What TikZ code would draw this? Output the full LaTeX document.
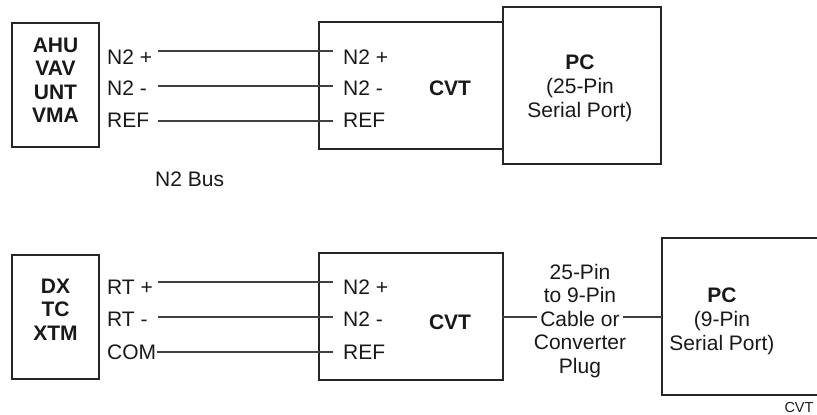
\documentclass[tikz,border=0pt]{standalone}
\usepackage{fontspec}
\setmainfont{Liberation Sans}
\newcommand{\bigtxt}{\fontsize{21}{23.4}\selectfont}
\newcommand{\pctxt}{\fontsize{21}{24}\selectfont}
\begin{document}
\begin{tikzpicture}[x=1pt,y=-1pt,
  box/.style={draw=black!85, line width=1.2pt, rectangle, inner sep=0pt},
  wire/.style={draw=black!75, line width=1.3pt},
  txt/.style={font=\bigtxt, inner sep=0pt, anchor=base, align=center, text=black!90},
  lbl/.style={font=\bigtxt, inner sep=0pt, anchor=base west, text=black!90},
  pctext/.style={font=\pctxt, inner sep=0pt, anchor=base, align=center, text=black!90}]
\useasboundingbox (0,0) rectangle (817,415);

% ---------- top row ----------
\node[box, minimum width=87pt, minimum height=124pt] (dev1) at (55.5,85) {};
\node[box, minimum width=184pt, minimum height=127pt] (cvt1) at (411,85.5) {};
\node[box, minimum width=158pt, minimum height=157pt] (pc1) at (582,85.5) {};

% multi-line nodes: base anchor is the baseline of the last line
\node[txt, font=\bigtxt\bfseries] (dev1t) at (55.5,122.5) {AHU\\VAV\\UNT\\VMA};
\node[lbl] (l1a) at (107,64.5) {N2 +};
\node[lbl] (l1b) at (107,95.5) {N2 -};
\node[lbl] (l1c) at (107,127.5) {REF};
\node[lbl] (r1a) at (343,64.5) {N2 +};
\node[lbl] (r1b) at (343,95.5) {N2 -};
\node[lbl] (r1c) at (343,127.5) {REF};
\node[txt, font=\bigtxt\bfseries] (cvt1t) at (450,95.5) {CVT};
\node[pctext] (pc1t) at (580,117.5) {\textbf{PC}\\(25-Pin\\Serial Port)};
\node[lbl] (bus) at (155,186.5) {N2 Bus};

\coordinate (w1as) at (158,51);  \coordinate (w1ae) at (333,51);
\coordinate (w1bs) at (158,86);  \coordinate (w1be) at (333,86);
\coordinate (w1cs) at (158,121); \coordinate (w1ce) at (333,121);
\draw[wire] (w1as) -- (w1ae);
\draw[wire] (w1bs) -- (w1be);
\draw[wire] (w1cs) -- (w1ce);

% ---------- bottom row ----------
\node[box, minimum width=87pt, minimum height=124pt] (dev2) at (55.5,317) {};
\node[box, minimum width=184pt, minimum height=127pt] (cvt2) at (411,316.5) {};
\coordinate (pc2tr) at (830,238);
\coordinate (pc2tl) at (662,238);
\coordinate (pc2bl) at (662,395);
\coordinate (pc2br) at (830,395);
\draw[draw=black!85, line width=1.2pt] (pc2tr) -- (pc2tl) -- (pc2bl) -- (pc2br);

\node[txt, font=\bigtxt\bfseries] (dev2t) at (55.5,340.3) {DX\\TC\\XTM};
\node[lbl] (l2a) at (107,294.5) {RT +};
\node[lbl] (l2b) at (107,326.5) {RT -};
\node[lbl] (l2c) at (107,359.5) {COM};
\node[lbl] (r2a) at (343,294.5) {N2 +};
\node[lbl] (r2b) at (343,326.5) {N2 -};
\node[lbl] (r2c) at (343,359.5) {REF};
\node[txt, font=\bigtxt\bfseries] (cvt2t) at (450,329.5) {CVT};
\node[pctext] (pc2t) at (722,350.5) {\textbf{PC}\\(9-Pin\\Serial Port)};
\node[txt] (cable) at (580,373.1) {25-Pin\\to 9-Pin\\Cable or\\Converter\\Plug};

\coordinate (w2as) at (158,282); \coordinate (w2ae) at (333,282);
\coordinate (w2bs) at (158,317); \coordinate (w2be) at (333,317);
\coordinate (w2cs) at (157,352); \coordinate (w2ce) at (333,352);
\draw[wire] (w2as) -- (w2ae);
\draw[wire] (w2bs) -- (w2be);
\draw[wire] (w2cs) -- (w2ce);

\coordinate (c1s) at (503,317); \coordinate (c1e) at (537,317);
\coordinate (c2s) at (623,317); \coordinate (c2e) at (662,317);
\draw[wire] (c1s) -- (c1e);
\draw[wire] (c2s) -- (c2e);

\node[font=\fontsize{14.5}{16}\selectfont, inner sep=0pt, anchor=base, text=black!90] (tag) at (799,412.2) {CVT};
\end{tikzpicture}
\end{document}
